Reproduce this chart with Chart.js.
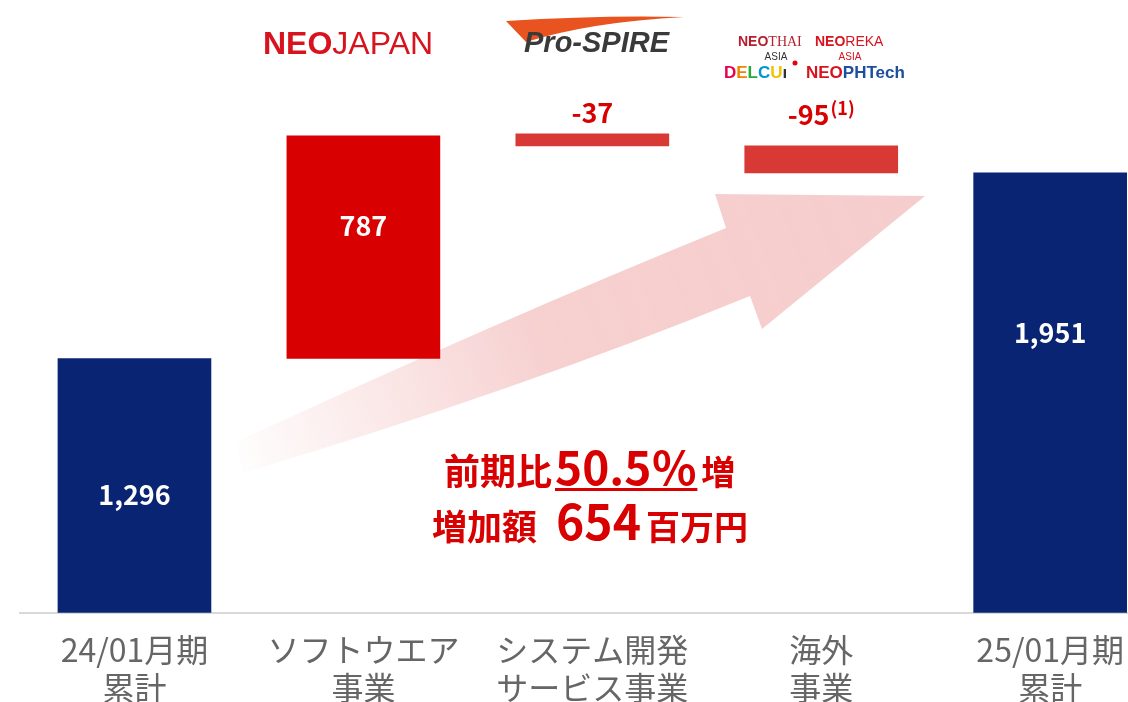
<!DOCTYPE html>
<html lang="ja">
<head>
<meta charset="utf-8">
<title>売上高 増減</title>
<script src="https://cdn.jsdelivr.net/npm/chart.js@4.4.1/dist/chart.umd.min.js"></script>
<style>
  html, body { margin: 0; padding: 0; background: #fff; overflow: hidden; }
  #wrap { position: relative; width: 1128px; height: 725px; }
</style>
</head>
<body>
<div id="wrap"><canvas id="chart"></canvas></div>
<script>
// categories (two-line tick labels)
const categories = [
  ["24/01月期", "累計"],
  ["ソフトウエア", "事業"],
  ["システム開発", "サービス事業"],
  ["海外", "事業"],
  ["25/01月期", "累計"]
];
// bar extents as drawn in the picture (start, end)
const barRanges = [[0, 1128], [1128, 2115], [2071, 2124], [1951, 2071], [0, 1951]];
// printed values
const valueLabels = ["1,296", "787", "-37", "-95", "1,951"];
const footnotes = ["", "", "", "(1)", ""];
const barColors = ["#082472", "#d80000", "#d93935", "#d93935", "#082472"];

const JP = "'Noto Sans CJK JP', 'Noto Sans', sans-serif";
const RED = "#d80000";

// pink arrow behind the bars
const arrowPlugin = {
  id: "arrow",
  beforeDatasetsDraw(chart) {
    const ctx = chart.ctx;
    ctx.save();
    const g = ctx.createLinearGradient(236, 458, 925, 196);
    g.addColorStop(0, "rgba(246,205,205,0.03)");
    g.addColorStop(0.45, "rgba(246,205,205,0.95)");
    g.addColorStop(1, "rgba(246,205,205,1)");
    ctx.fillStyle = g;
    ctx.beginPath();
    ctx.moveTo(236, 442);
    ctx.quadraticCurveTo(500, 320, 726, 228);
    ctx.lineTo(715, 194);
    ctx.lineTo(925, 196);
    ctx.lineTo(762, 329);
    ctx.lineTo(750, 296);
    ctx.quadraticCurveTo(520, 390, 243, 473);
    ctx.closePath();
    ctx.fill();
    ctx.restore();
  }
};

// value labels on / above each bar
const labelPlugin = {
  id: "labels",
  afterDatasetsDraw(chart) {
    const ctx = chart.ctx;
    const meta = chart.getDatasetMeta(0);
    const inside = [true, true, false, false, true];
    const shift = [19, -11, -11, -21, -50];
    ctx.save();
    ctx.textBaseline = "alphabetic";
    meta.data.forEach((bar, i) => {
      const top = Math.min(bar.y, bar.base);
      const bottom = Math.max(bar.y, bar.base);
      const main = "bold 27px " + JP;
      const sup = "bold 18px " + JP;
      ctx.font = main;
      const w1 = ctx.measureText(valueLabels[i]).width;
      ctx.font = sup;
      const w2 = footnotes[i] ? ctx.measureText(footnotes[i]).width + 1 : 0;
      const x0 = bar.x - (w1 + w2) / 2;
      const y = inside[i] ? (top + bottom) / 2 + shift[i] : top + shift[i];
      ctx.fillStyle = inside[i] ? "#fff" : RED;
      ctx.textAlign = "left";
      ctx.font = main;
      ctx.fillText(valueLabels[i], x0, y);
      if (footnotes[i]) {
        ctx.font = sup;
        ctx.fillText(footnotes[i], x0 + w1 + 1, y - 10);
      }
    });
    ctx.restore();
  }
};

// logos and the growth note
const decorPlugin = {
  id: "decor",
  afterDraw(chart) {
    const ctx = chart.ctx;
    ctx.save();
    ctx.textAlign = "left";
    ctx.textBaseline = "alphabetic";

    const run = (parts, x, y) => {
      parts.forEach(p => {
        ctx.font = p.font;
        ctx.fillStyle = p.color;
        const w = ctx.measureText(p.text).width;
        ctx.fillText(p.text, x, y);
        if (p.underline) {
          ctx.fillRect(x, y + 3, w, 3);
        }
        x += w + (p.gap || 0);
      });
    };

    // NEOJAPAN
    run([
      { text: "NEO", font: "bold 32px 'Liberation Sans', Arial, sans-serif", color: "#d7141e" },
      { text: "JAPAN", font: "32px 'Liberation Sans', Arial, sans-serif", color: "#d7141e" }
    ], 263, 54);

    // Pro-SPIRE swoosh + text
    ctx.fillStyle = "#e9531f";
    ctx.beginPath();
    ctx.moveTo(506, 21);
    ctx.quadraticCurveTo(600, 15, 684, 17);
    ctx.quadraticCurveTo(590, 22, 526, 42);
    ctx.closePath();
    ctx.fill();
    run([{ text: "Pro-SPIRE", font: "italic 900 29px 'Liberation Sans', Arial, sans-serif", color: "#3a3a3a" }], 524, 52);

    // overseas group logos
    const sans = "'Liberation Sans', Arial, sans-serif";
    run([
      { text: "NEO", font: "bold 14px " + sans, color: "#b51f2e" },
      { text: "THAI", font: "14px 'Liberation Serif', serif", color: "#b51f2e" }
    ], 738, 46);
    run([
      { text: "NEO", font: "bold 14px " + sans, color: "#d7141e" },
      { text: "REKA", font: "14px " + sans, color: "#d7141e" }
    ], 815, 46);
    ctx.textAlign = "center";
    ctx.font = "10px " + sans;
    ctx.fillStyle = "#333";
    ctx.fillText("ASIA", 776, 60);
    ctx.fillStyle = "#d7141e";
    ctx.fillText("ASIA", 850, 60);
    ctx.textAlign = "left";
    run([
      { text: "D", font: "bold 17px " + sans, color: "#e5004f" },
      { text: "E", font: "bold 17px " + sans, color: "#f08300" },
      { text: "L", font: "bold 17px " + sans, color: "#22ac38" },
      { text: "C", font: "bold 17px " + sans, color: "#0096d6" },
      { text: "U", font: "bold 17px " + sans, color: "#f5c000" },
      { text: "ı", font: "bold 17px " + sans, color: "#333" }
    ], 724, 78);
    ctx.fillStyle = "#e60012";
    ctx.beginPath();
    ctx.arc(795, 63, 2.5, 0, Math.PI * 2);
    ctx.fill();
    run([
      { text: "NEO", font: "bold 17px " + sans, color: "#d7141e" },
      { text: "PHTech", font: "bold 17px " + sans, color: "#1d4fa0" }
    ], 806, 78);

    // growth note
    run([
      { text: "前期比", font: "bold 36px " + JP, color: RED, gap: 3 },
      { text: "50.5％", font: "bold 46px " + JP, color: RED, underline: true, gap: 4 },
      { text: "増", font: "bold 34px " + JP, color: RED }
    ], 444, 485);
    run([
      { text: "増加額", font: "bold 35px " + JP, color: RED, gap: 19 },
      { text: "654", font: "bold 48px " + JP, color: RED, gap: 5 },
      { text: "百万円", font: "bold 34px " + JP, color: RED }
    ], 432, 540);

    ctx.restore();
  }
};

new Chart(document.getElementById("chart"), {
  type: "bar",
  data: {
    datasets: [{
      data: barRanges.map((r, i) => ({ x: i, y: r })),
      backgroundColor: barColors,
      borderWidth: 0,
      barThickness: 153
    }]
  },
  options: {
    responsive: true,
    maintainAspectRatio: false,
    animation: false,
    layout: { padding: { left: 20, right: 0, top: 0, bottom: 0 } },
    plugins: { legend: { display: false }, tooltip: { enabled: false } },
    scales: {
      x: {
        type: "linear",
        offset: false,
        min: -0.5,
        max: 4.34,
        afterBuildTicks: (scale) => {
          scale.ticks = categories.map((_, i) => ({ value: i }));
        },
        afterFit: (scale) => {
          scale.paddingLeft = 0;
          scale.paddingRight = 0;
        },
        grid: { display: false, drawTicks: false },
        border: { display: true, color: "#d9d9d9", width: 2 },
        ticks: {
          autoSkip: false,
          maxRotation: 0,
          padding: 19,
          color: "#666",
          font: { family: JP, size: 32, lineHeight: 1.16 },
          callback: (value) => categories[value] || ""
        }
      },
      y: { display: false, min: 0, max: 2718 }
    }
  },
  plugins: [arrowPlugin, labelPlugin, decorPlugin]
});
</script>
</body>
</html>
